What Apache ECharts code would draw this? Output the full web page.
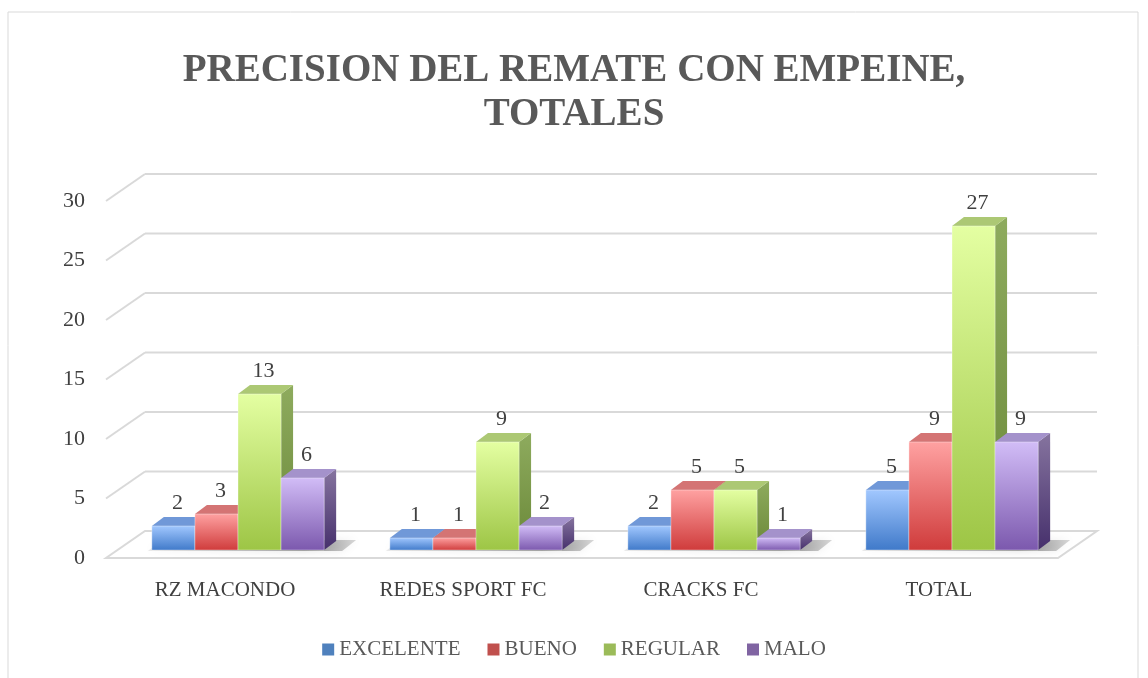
<!DOCTYPE html>
<html>
<head>
<meta charset="utf-8">
<script src="https://cdn.jsdelivr.net/npm/echarts@6/dist/echarts.min.js"></script>
<style>
  html, body { margin: 0; padding: 0; background: #fff; }
  #main { width: 1148px; height: 678px; }
</style>
</head>
<body>
<div id="main"></div>
<script>
// datos
var categorias = ['RZ MACONDO', 'REDES SPORT FC', 'CRACKS FC', 'TOTAL'];
var excelente = [2, 1, 2, 5];
var bueno = [3, 1, 5, 9];
var regular = [13, 9, 5, 27];
var malo = [6, 2, 1, 9];
var marcas = [0, 5, 10, 15, 20, 25, 30];

var nombres = ['EXCELENTE', 'BUENO', 'REGULAR', 'MALO'];
var valores = [excelente, bueno, regular, malo];

// colores: frente (arriba, abajo), lado, tapa, leyenda
var colores = [
    {f1: '#a2c8ff', f2: '#3f79c9', l1: '#587fbd', l2: '#37578c', t: '#7098d8', ley: '#4f81bd'},
    {f1: '#ffa2a2', f2: '#cf3b3b', l1: '#b95757', l2: '#8f3333', t: '#d47474', ley: '#c0504d'},
    {f1: '#e4ffa2', f2: '#9dc545', l1: '#8eab5e', l2: '#6a8838', t: '#acc874', ley: '#9bbb59'},
    {f1: '#d2bdf7', f2: '#7b58ad', l1: '#86749f', l2: '#46306c', t: '#a492cb', ley: '#8064a2'}
];

var serif = '"Liberation Serif", "DejaVu Serif", serif';
var prof = [39, 27];   // profundidad de paredes
var barProf = [12, 9]; // profundidad de cada barra

var chart = echarts.init(document.getElementById('main'));

function lin(a, b, horiz) {
    return new echarts.graphic.LinearGradient(0, 0, horiz ? 1 : 0, horiz ? 0 : 1, [
        {offset: 0, color: a}, {offset: 1, color: b}
    ]);
}

// paredes y piso
function renderParedes(params, api) {
    var v = api.value(0);
    var cs = params.coordSys;
    var y = api.coord([0, v])[1];
    var x0 = cs.x, x1 = cs.x + cs.width;
    var hijos = [];
    if (v === 0) {
        hijos.push({
            type: 'polygon',
            shape: {points: [[x0, y], [x1, y], [x1 + prof[0], y - prof[1]], [x0 + prof[0], y - prof[1]]]},
            style: {fill: '#fff', stroke: '#d9d9d9', lineWidth: 2}
        });
    } else {
        hijos.push({
            type: 'line',
            shape: {x1: x0, y1: y, x2: x0 + prof[0], y2: y - prof[1]},
            style: {stroke: '#d9d9d9', lineWidth: 2}
        });
    }
    hijos.push({
        type: 'line',
        shape: {x1: x0 + prof[0], y1: y - prof[1], x2: x1 + prof[0], y2: y - prof[1]},
        style: {stroke: '#d9d9d9', lineWidth: 2}
    });
    return {type: 'group', children: hijos};
}

function geometria(api, idx) {
    var cat = api.value(0);
    var val = api.value(1);
    var banda = api.size([1, 0])[0];
    var ancho = banda * 0.181;
    var centro = api.coord([cat, 0]);
    var arriba = api.coord([cat, val]);
    var x0 = centro[0] - 2 * ancho + idx * ancho;
    return {x0: x0, x1: x0 + ancho, yb: centro[1], yt: arriba[1], w: ancho};
}

function renderBarra(idx) {
    return function (params, api) {
        var g = geometria(api, idx);
        var c = colores[idx];
        var dx = barProf[0], dy = barProf[1];
        return {
            type: 'group',
            children: [
                {
                    type: 'polygon',
                    shape: {points: [[g.x1, g.yt], [g.x1 + dx, g.yt - dy], [g.x1 + dx, g.yb - dy], [g.x1, g.yb]]},
                    style: {fill: lin(c.l1, c.l2, false)}
                },
                {
                    type: 'polygon',
                    shape: {points: [[g.x0, g.yt], [g.x1, g.yt], [g.x1 + dx, g.yt - dy], [g.x0 + dx, g.yt - dy]]},
                    style: {fill: c.t}
                },
                {
                    type: 'rect',
                    shape: {x: g.x0, y: g.yt, width: g.w, height: g.yb - g.yt},
                    style: {fill: lin(c.f1, c.f2, false), stroke: 'rgba(255,255,255,0.35)', lineWidth: 1}
                },
                {
                    type: 'text',
                    style: {
                        text: String(api.value(1)),
                        x: g.x0 + g.w / 2 + 4,
                        y: g.yt - 12,
                        align: 'center',
                        verticalAlign: 'bottom',
                        font: '22px ' + serif,
                        fill: '#404040'
                    }
                }
            ]
        };
    };
}

function renderSombra(params, api) {
    var cat = api.value(0);
    var banda = api.size([1, 0])[0];
    var ancho = banda * 0.181;
    var centro = api.coord([cat, 0]);
    var x0 = centro[0] - 2 * ancho;
    var x1 = centro[0] + 2 * ancho;
    var yb = centro[1];
    return {
        type: 'polygon',
        shape: {points: [[x0 - 4, yb + 1], [x1 + 18, yb + 1], [x1 + 32, yb - 10], [x0 + 10, yb - 10]]},
        style: {
            fill: new echarts.graphic.LinearGradient(0, 0, 1, 0, [
                {offset: 0, color: 'rgba(0,0,0,0.08)'},
                {offset: 0.75, color: 'rgba(0,0,0,0.4)'},
                {offset: 1, color: 'rgba(0,0,0,0.15)'}
            ]),
            shadowBlur: 8,
            shadowColor: 'rgba(0,0,0,0.3)'
        }
    };
}

var series = [
    {
        type: 'custom',
        name: 'paredes',
        xAxisIndex: 0,
        yAxisIndex: 0,
        z: 0,
        silent: true,
        renderItem: renderParedes,
        data: marcas.map(function (m) { return [m]; }),
        encode: {y: 0}
    },
    {
        type: 'custom',
        name: 'sombra',
        xAxisIndex: 1,
        yAxisIndex: 1,
        z: 1,
        silent: true,
        renderItem: renderSombra,
        data: categorias.map(function (c, i) { return [i, 0]; }),
        encode: {x: 0, y: 1}
    }
];

nombres.forEach(function (n, i) {
    series.push({
        type: 'custom',
        name: n,
        xAxisIndex: 1,
        yAxisIndex: 1,
        z: 2 + i,
        itemStyle: {color: colores[i].ley},
        renderItem: renderBarra(i),
        data: valores[i].map(function (v, j) { return [j, v]; }),
        encode: {x: 0, y: 1}
    });
});

chart.setOption({
    backgroundColor: '#fff',
    animation: false,
    title: {
        text: 'PRECISION DEL REMATE CON EMPEINE,\nTOTALES',
        left: 'center',
        top: 44,
        textStyle: {
            fontFamily: serif,
            fontWeight: 'bold',
            fontSize: 39,
            lineHeight: 44,
            color: '#595959'
        }
    },
    graphic: [{
        type: 'rect',
        shape: {x: 8, y: 12, width: 1130, height: 680},
        style: {fill: 'none', stroke: '#d9d9d9', lineWidth: 1},
        silent: true,
        z: -1
    }],
    legend: {
        data: nombres,
        bottom: 13,
        left: 'center',
        icon: 'rect',
        itemWidth: 12,
        itemHeight: 12,
        itemGap: 27,
        textStyle: {fontFamily: serif, fontSize: 21, color: '#595959'}
    },
    grid: [
        {left: 106, right: 90, top: 201, bottom: 120},
        {left: 119, right: 77, top: 190, bottom: 128}
    ],
    xAxis: [
        {
            type: 'category',
            gridIndex: 0,
            data: categorias,
            axisLine: {show: false},
            axisTick: {show: false},
            axisLabel: {margin: 22, fontFamily: serif, fontSize: 21, color: '#404040'}
        },
        {
            type: 'category',
            gridIndex: 1,
            data: categorias,
            show: false
        }
    ],
    yAxis: [
        {
            type: 'value',
            gridIndex: 0,
            min: 0,
            max: 30,
            interval: 5,
            splitLine: {show: false},
            axisLine: {show: false},
            axisTick: {show: false},
            axisLabel: {margin: 21, fontFamily: serif, fontSize: 22, color: '#404040', padding: [8, 0, 0, 0]}
        },
        {
            type: 'value',
            gridIndex: 1,
            min: 0,
            max: 30,
            interval: 5,
            show: false
        }
    ],
    series: series
});
</script>
</body>
</html>
